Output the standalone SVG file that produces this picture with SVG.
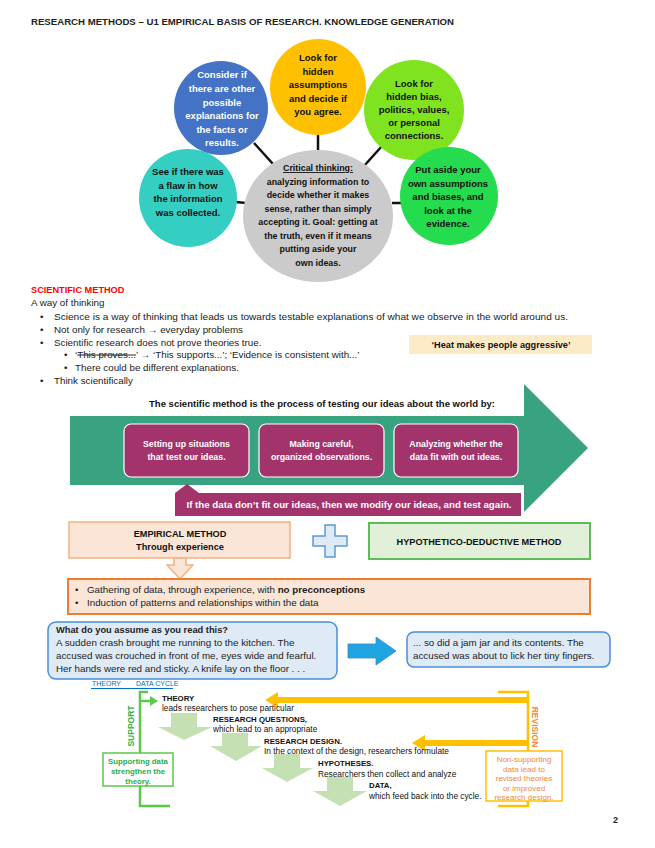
<svg xmlns="http://www.w3.org/2000/svg" width="655" height="848" viewBox="0 0 655 848">
<defs>
<style>
text{font-family:"Liberation Sans",Arial,sans-serif;}
.hd{font-size:9px;font-weight:bold;fill:#222;}
.ct{font-size:9.5px;font-weight:bold;text-anchor:middle;fill:#111;}
.cw{font-size:9.5px;font-weight:bold;text-anchor:middle;fill:#fff;}
.gt{font-size:8.9px;font-weight:bold;text-anchor:middle;fill:#111;}
.body{font-size:9.8px;fill:#222;}
.pb{font-size:8.8px;font-weight:bold;text-anchor:middle;fill:#fff;}
.bk{font-size:9.2px;font-weight:bold;text-anchor:middle;fill:#111;}
.cap{font-size:7.8px;font-weight:bold;fill:#111;}
.desc{font-size:8.3px;fill:#111;}
.purple{fill:#A3346B;}
.conn{stroke:#111;stroke-width:2.5;}
.dn{fill:#C5E0B3;}
.yel{fill:#FFC000;}
.sup{font-size:7.8px;font-weight:bold;fill:#22B04A;text-anchor:middle;}
.rev{font-size:8px;fill:#F4883A;text-anchor:middle;}
</style>
</defs>
<rect width="655" height="848" fill="#fff"/>
<text id="header" class="hd" x="31" y="25" textLength="423" lengthAdjust="spacingAndGlyphs">RESEARCH METHODS – U1 EMPIRICAL BASIS OF RESEARCH. KNOWLEDGE GENERATION</text>

<g id="connectors">
<line class="conn" x1="318" y1="134" x2="318" y2="151"/>
<line class="conn" x1="254" y1="143" x2="273" y2="164"/>
<line class="conn" x1="382" y1="146" x2="364" y2="166"/>
<line class="conn" x1="236" y1="202" x2="246" y2="203"/>
<line class="conn" x1="392" y1="203" x2="401" y2="203"/>
</g>

<g id="n-yellow">
<circle cx="318" cy="87" r="48" fill="#FFC000"/>
<text class="ct" x="318" y="61">Look for</text>
<text class="ct" x="318" y="74.5">hidden</text>
<text class="ct" x="318" y="88">assumptions</text>
<text class="ct" x="318" y="101.5">and decide if</text>
<text class="ct" x="318" y="115">you agree.</text>
</g>
<g id="n-blue">
<circle cx="221" cy="108" r="47" fill="#4472C4"/>
<text class="cw" x="222" y="78">Consider if</text>
<text class="cw" x="222" y="92">there are other</text>
<text class="cw" x="222" y="105.5">possible</text>
<text class="cw" x="222" y="119">explanations for</text>
<text class="cw" x="222" y="132.5">the facts or</text>
<text class="cw" x="222" y="146">results.</text>
</g>
<g id="n-lime">
<circle cx="414" cy="110" r="50" fill="#80E31F"/>
<text class="ct" x="414" y="87">Look for</text>
<text class="ct" x="414" y="100">hidden bias,</text>
<text class="ct" x="414" y="113">politics, values,</text>
<text class="ct" x="414" y="126">or personal</text>
<text class="ct" x="414" y="139">connections.</text>
</g>
<g id="n-green">
<circle cx="449" cy="196" r="49" fill="#24DC4E"/>
<text class="ct" x="448" y="173">Put aside your</text>
<text class="ct" x="448" y="186.5">own assumptions</text>
<text class="ct" x="448" y="200">and biases, and</text>
<text class="ct" x="448" y="213.5">look at the</text>
<text class="ct" x="448" y="227">evidence.</text>
</g>
<g id="n-teal">
<circle cx="188" cy="198" r="49" fill="#34CFC2"/>
<text class="ct" x="188" y="175">See if there was</text>
<text class="ct" x="188" y="188.5">a flaw in how</text>
<text class="ct" x="188" y="202">the information</text>
<text class="ct" x="188" y="215.5">was collected.</text>
</g>
<g id="n-center">
<ellipse cx="318" cy="216" rx="75" ry="66" fill="#CBCBCB"/>
<text class="gt" x="318" y="171" text-decoration="underline">Critical thinking:</text>
<text class="gt" x="318" y="184.5">analyzing information to</text>
<text class="gt" x="318" y="198">decide whether it makes</text>
<text class="gt" x="318" y="211.5">sense, rather than simply</text>
<text class="gt" x="318" y="225">accepting it. Goal: getting at</text>
<text class="gt" x="318" y="238.5">the truth, even if it means</text>
<text class="gt" x="318" y="252">putting aside your</text>
<text class="gt" x="318" y="265.5">own ideas.</text>
</g>

<g id="scientific-text">
<text x="31" y="293" style="font-size:9.2px;font-weight:bold;fill:#FF0000">SCIENTIFIC METHOD</text>
<text class="body" x="31" y="306">A way of thinking</text>
<text class="body" x="40" y="320">•</text>
<text class="body" x="54" y="320" textLength="514" lengthAdjust="spacingAndGlyphs">Science is a way of thinking that leads us towards testable explanations of what we observe in the world around us.</text>
<text class="body" x="40" y="333">•</text>
<text class="body" x="54" y="333">Not only for research <tspan font-weight="bold">→</tspan> everyday problems</text>
<text class="body" x="40" y="346">•</text>
<text class="body" x="54" y="346">Scientific research does not prove theories true.</text>
<text class="body" x="64" y="358">•</text>
<text class="body" x="75" y="358">‘<tspan text-decoration="line-through">This proves...</tspan>’ <tspan font-weight="bold">→</tspan> ‘This supports...’; ‘Evidence is consistent with...’</text>
<text class="body" x="64" y="371">•</text>
<text class="body" x="75" y="371">There could be different explanations.</text>
<text class="body" x="40" y="384">•</text>
<text class="body" x="54" y="384">Think scientifically</text>
</g>
<g id="heat">
<rect x="409" y="335" width="183" height="19" fill="#FDEBC8"/>
<text class="bk" x="501" y="348">‘Heat makes people aggressive’</text>
</g>

<g id="process-arrow">
<text x="322" y="407" textLength="346" lengthAdjust="spacingAndGlyphs" style="font-size:9px;font-weight:bold;text-anchor:middle;fill:#111">The scientific method is the process of testing our ideas about the world by:</text>
<path d="M70,416 H524 V384 L588,448 L524,512 V485 H70 Z" fill="#39A281"/>
</g>
<g id="step1">
<rect class="purple" x="124" y="424" width="125" height="53" rx="7" stroke="#fff" stroke-width="1.2"/>
<text class="pb" x="186.5" y="447">Setting up situations</text>
<text class="pb" x="186.5" y="460">that test our ideas.</text>
</g>
<g id="step2">
<rect class="purple" x="259" y="424" width="125" height="53" rx="7" stroke="#fff" stroke-width="1.2"/>
<text class="pb" x="321.5" y="447">Making careful,</text>
<text class="pb" x="321.5" y="460">organized observations.</text>
</g>
<g id="step3">
<rect class="purple" x="394" y="424" width="124" height="53" rx="7" stroke="#fff" stroke-width="1.2"/>
<text class="pb" x="456" y="447">Analyzing whether the</text>
<text class="pb" x="456" y="460">data fit with out ideas.</text>
</g>
<g id="feedback">
<path class="purple" d="M175,493 L187,484 L199,493 H521 V516 H175 Z"/>
<text class="pb" x="349" y="508" textLength="325" lengthAdjust="spacingAndGlyphs">If the data don’t fit our ideas, then we modify our ideas, and test again.</text>
</g>

<g id="empirical">
<rect x="69" y="522" width="221" height="36" fill="#FBE5D6" stroke="#F4B183" stroke-width="1.5"/>
<text class="bk" x="180" y="537">EMPIRICAL METHOD</text>
<text class="bk" x="180" y="550">Through experience</text>
<path d="M174,558 H186 V565 H193 L180,579 L167,565 H174 Z" fill="#FBE5D6" stroke="#F4B183" stroke-width="1.5"/>
</g>
<g id="plus">
<path d="M325,525 H335 V536 H347 V546 H335 V557 H325 V546 H313 V536 H325 Z" fill="#DEEBF7" stroke="#5B9BD5" stroke-width="1.5"/>
</g>
<g id="hypothetico">
<rect x="369" y="523" width="221" height="36" fill="#E2F0D9" stroke="#5DBB5A" stroke-width="2"/>
<text class="bk" x="479" y="545">HYPOTHETICO-DEDUCTIVE METHOD</text>
</g>
<g id="empirical-notes">
<rect x="68" y="579" width="522" height="35" fill="#FBE5D6" stroke="#ED7D31" stroke-width="2"/>
<text class="body" x="75" y="593">•</text>
<text class="body" x="87" y="593">Gathering of data, through experience, with <tspan font-weight="bold">no preconceptions</tspan></text>
<text class="body" x="75" y="606">•</text>
<text class="body" x="87" y="606">Induction of patterns and relationships within the data</text>
</g>

<g id="story-left">
<rect x="48" y="622" width="289" height="57" rx="8" fill="#DEEBF7" stroke="#4A8FD6" stroke-width="1.5"/>
<text class="body" x="56" y="633" font-weight="bold" style="font-size:9.3px">What do you assume as you read this?</text>
<text class="body" x="56" y="646">A sudden crash brought me running to the kitchen. The</text>
<text class="body" x="56" y="659">accused was crouched in front of me, eyes wide and fearful.</text>
<text class="body" x="56" y="672">Her hands were red and sticky. A knife lay on the floor . . .</text>
</g>
<g id="story-arrow">
<path d="M348,644 H376 V637 L396,651 L376,665 V658 H348 Z" fill="#1FA6E2" stroke="#3A86C8" stroke-width="0.8"/>
</g>
<g id="story-right">
<rect x="407" y="632" width="203" height="35" rx="7" fill="#DEEBF7" stroke="#4A8FD6" stroke-width="1.5"/>
<text class="body" x="413" y="646">... so did a jam jar and its contents. The</text>
<text class="body" x="413" y="659">accused was about to lick her tiny fingers.</text>
</g>

<g id="cycle-title">
<text x="92" y="686" style="font-size:7px;fill:#0070C0">THEORY</text>
<text x="136" y="686" style="font-size:7px;fill:#0070C0">DATA CYCLE</text>
<line x1="91" y1="688.5" x2="173" y2="688.5" stroke="#0070C0" stroke-width="1"/>
</g>

<g id="cycle-connectors">
<path d="M148,692 H140 V806 H170" fill="none" stroke="#5CC84A" stroke-width="2.5"/>
<path d="M140,701 H151" fill="none" stroke="#5CC84A" stroke-width="2.5"/>
<polygon points="150,696 158,701 150,706" fill="#5CC84A"/>
<path d="M498,692 H528 V806 H498" fill="none" stroke="#FFC000" stroke-width="2.5"/>
<rect class="yel" x="277" y="697" width="251" height="6"/>
<polygon class="yel" points="265,700 278,692 278,708"/>
<rect class="yel" x="424" y="740" width="104" height="6"/>
<polygon class="yel" points="412,743 425,735 425,751"/>
<polygon class="dn" points="171,713 197,713 197,727 212,727 184,740 158,727 171,727"/>
<polygon class="dn" points="222,733 248,733 248,746 262,746 236,761 210,746 222,746"/>
<polygon class="dn" points="274,754 300,754 300,768 313,768 287,782 262,768 274,768"/>
<polygon class="dn" points="327,777 353,777 353,791 367,791 340,806 313,791 327,791"/>
</g>

<g id="support">
<text transform="translate(134,726) rotate(-90)" style="font-size:8.5px;font-weight:bold;fill:#2DB34A;text-anchor:middle">SUPPORT</text>
<rect x="103" y="753" width="70" height="33" fill="#fff" stroke="#5CC84A" stroke-width="1.5"/>
<text class="sup" x="138" y="764">Supporting data</text>
<text class="sup" x="138" y="774">strengthen the</text>
<text class="sup" x="138" y="783.5">theory.</text>
</g>
<g id="revision">
<text transform="translate(532,727) rotate(90)" style="font-size:8.5px;font-weight:bold;fill:#F4883A;text-anchor:middle">REVISION</text>
<rect x="486" y="751" width="76" height="50" fill="#fff" stroke="#FFC000" stroke-width="1.5"/>
<text class="rev" x="524" y="762">Non-supporting</text>
<text class="rev" x="524" y="771.5">data lead to</text>
<text class="rev" x="524" y="781">revised theories</text>
<text class="rev" x="524" y="790.5">or improved</text>
<text class="rev" x="524" y="800">research design.</text>
</g>

<g id="cycle-steps">
<text class="cap" x="162" y="701">THEORY</text>
<text class="desc" x="162" y="711">leads researchers to pose particular</text>
<text class="cap" x="213" y="722">RESEARCH QUESTIONS,</text>
<text class="desc" x="213" y="732">which lead to an appropriate</text>
<text class="cap" x="264" y="744">RESEARCH DESIGN.</text>
<text class="desc" x="264" y="754">In the context of the design, researchers formulate</text>
<text class="cap" x="318" y="766">HYPOTHESES.</text>
<text class="desc" x="318" y="777">Researchers then collect and analyze</text>
<text class="cap" x="369" y="788">DATA,</text>
<text class="desc" x="369" y="799">which feed back into the cycle.</text>
</g>

<text x="613" y="823" style="font-size:9px;font-weight:bold;fill:#222">2</text>
</svg>
